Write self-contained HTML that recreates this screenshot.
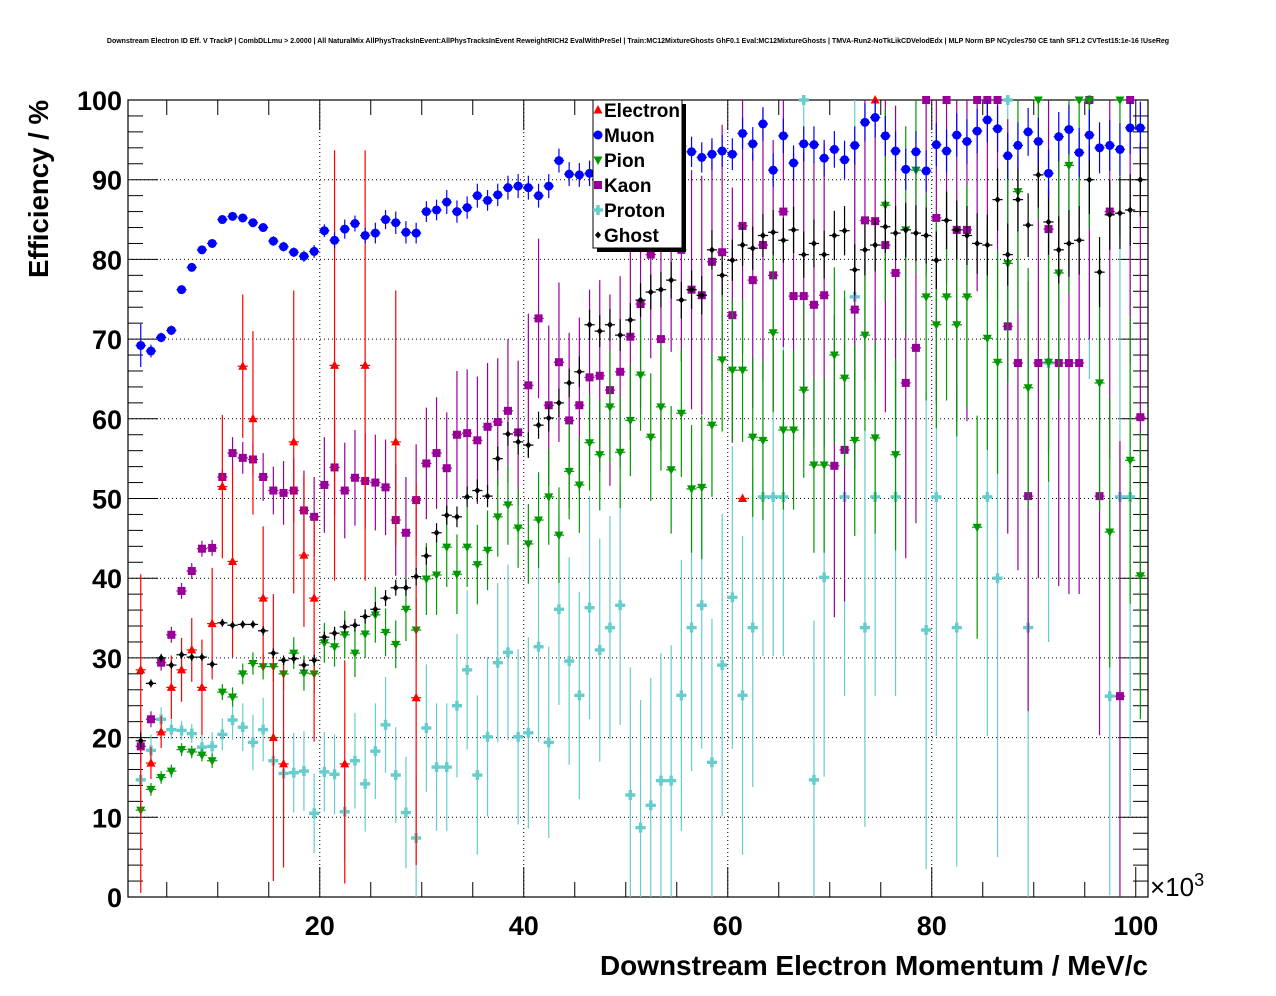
<!DOCTYPE html>
<html><head><meta charset="utf-8"><style>
html,body{margin:0;padding:0;background:#fff;}
svg{display:block;font-family:"Liberation Sans",Arial,sans-serif;}
</style></head><body>
<svg id="chart" width="1276" height="996" viewBox="0 0 1276 996" xmlns="http://www.w3.org/2000/svg">
<rect x="0" y="0" width="1276" height="996" fill="#fff"/>
<text x="638" y="43" font-size="7" font-weight="bold" text-anchor="middle">Downstream Electron ID Eff. V TrackP | CombDLLmu &gt; 2.0000 | All NaturalMix AllPhysTracksInEvent:AllPhysTracksInEvent ReweightRICH2 EvalWithPreSel | Train:MC12MixtureGhosts GhF0.1 Eval:MC12MixtureGhosts | TMVA-Run2-NoTkLikCDVelodEdx | MLP Norm BP NCycles750 CE tanh SF1.2 CVTest15:1e-16 !UseReg</text>
<g id="grid"></g>
<g id="axes"></g>
<g id="marks"></g>
<text x="0" y="0" transform="translate(48,100) rotate(-90)" font-size="28" font-weight="bold" text-anchor="end" textLength="178" lengthAdjust="spacingAndGlyphs">Efficiency / %</text>
<text x="1148" y="975" font-size="28" font-weight="bold" text-anchor="end" textLength="548" lengthAdjust="spacingAndGlyphs">Downstream Electron Momentum / MeV/c</text>
<text x="1150" y="896" font-size="26">×10<tspan font-size="18" dy="-10">3</tspan></text>
<g id="legend"></g>
</svg>
<script>
const categoriesStart = 2.45; // first bin centre (×10^3 MeV/c), bins of width 1
const yTicks = [0,10,20,30,40,50,60,70,80,90,100];
const xTicks = [20,40,60,80,100];
const electronVals = [28.5,16.8,20.7,26.3,28.5,31,26.3,34.3,51.5,42.1,66.6,60,37.5,20,16.7,57.1,42.9,37.5,null,66.7,16.7,null,66.7,null,null,57.1,null,25];
const electronUp = [12,2,2,4,4,4,6,7,9,12,9,11,9,18,13,19,10,10,null,27,13,null,27,null,null,19,null,27];
const electronDn = [28,2,2,4,4,4,6,7,9,12,9,12,9,18,13,19,9,18,null,27,15,null,27,null,null,13,null,21];
const electronExtraX = [61.45,74.45];
const electronExtraV = [50,100];
const muonVals = [69.2,68.5,70.2,71.1,76.2,79,81.2,82,85,85.4,85.2,84.6,84,82.3,81.6,80.9,80.4,81,83.6,82.4,83.8,84.5,83,83.3,85,84.6,83.4,83.3,86,86.2,87.2,86,86.5,88,87.4,88.1,89,89.2,89,88,89.2,92.4,90.7,90.6,90.8,91,90.5,92.3,93,94,92.2,94,93.8,94.2,93.5,92.8,93.2,93.6,93.2,95.8,94.5,97,91.2,95.5,92.1,94.5,94.4,92.7,93.8,92.5,94.3,97.2,97.8,95.5,93.6,91.3,93.5,91.1,94.4,93.6,95.6,94.8,96.1,97.5,96.4,93,94.3,96,94.8,90.8,95.4,96.3,93.4,95.6,94,94.3,93.8,96.5,96.5];
const muonErr = [2.7,0.8,0.6,0.6,0.5,0.5,0.5,0.5,0.5,0.5,0.5,0.5,0.5,0.6,0.6,0.6,0.7,0.8,0.8,1.0,1.2,1.0,1.0,1.3,1.2,1.4,1.4,1.3,1.3,1.3,1.5,1.4,1.4,1.5,1.3,1.4,1.5,1.5,1.5,1.5,1.5,1.5,1.5,1.5,1.6,1.6,1.6,1.7,1.7,1.8,1.8,1.8,1.8,1.9,1.9,1.9,2,2,2,2,2.1,2.1,2.1,2.2,2.2,2.2,2.3,2.3,2.3,2.4,2.4,2.4,2.5,2.5,2.5,2.6,2.6,2.6,2.7,2.7,2.7,2.8,2.8,2.8,2.9,2.9,2.9,3,3,3,3.1,3.1,3.1,3.2,3.2,3.2,3.3,3.3,3.3];
const pionVals = [10.9,13.5,15,15.8,18.5,18.2,17.8,17.1,25.7,25.1,28,29.3,28.9,28.9,28,30.6,28.1,28,31.9,31.4,32.9,30.6,33,35.4,33.2,31.7,36.1,33.5,39.9,40.4,43.9,40.5,43.9,41.7,43.5,47.7,49.2,46.3,44.3,47.3,50.2,45.4,53.4,51.7,57,55.5,61.5,55.8,59.8,65.5,57.7,61.5,53.6,60.7,51.2,51.4,59.2,67.4,66.1,66.1,57.7,57.3,70.8,58.6,58.6,63.6,54.2,54.2,68,65.1,57.3,70.5,57.6,86.8,55.5,83.7,91.2,75.3,71.8,75.3,71.8,75.3,46.4,70.1,67.1,79.5,88.5,63.9,100,67.1,78.3,91.8,100,100,64.5,45.8,100,54.8,40.3];
const pionErr = [1,0.8,0.8,0.8,0.8,0.8,0.8,0.9,1,1.2,1.3,1.4,1.6,1.8,2,2,2.2,2.5,2.5,2.5,3,3,3,3.5,3,3,4,4,4.5,5,5,5,5,5,5,5,5,5,5,6,6,6,6,6,6,7,7,7,7,7,8,8,8,8,8,9,9,9,9,9,10,10,10,10,10,11,11,11,11,11,12,12,12,12,12,13,13,13,13,13,14,14,14,14,14,15,15,15,15,15,16,16,16,16,16,17,17,18,18];
const kaonVals = [18.9,22.3,29.4,32.9,38.4,40.9,43.7,43.8,52.7,55.7,55.1,54.9,52.7,51,50.7,51,48.5,47.7,51.7,53.9,51,52.6,52.2,52,51.4,47.3,45.7,49.8,54.4,55.7,53.8,58,58.2,57.3,59,59.6,61,58.3,64.2,72.6,61.7,67.1,59.8,61.7,65.2,65.4,63.6,65.9,70.3,74.4,80.6,70,82.4,81.2,76.2,75.5,79.7,80.9,73,84.2,77.4,81.8,78,86,75.4,75.4,74.3,75.5,54.1,56.1,73.7,84.9,84.8,81.8,78.3,64.5,68.9,100,85.2,100,83.7,83.7,100,100,100,71.6,67,50.3,67,83.8,67,67,67,100,50.3,86,25.2,100,60.2];
const kaonErr = [2,1,1,1,1,1,1,1,1,2,2,2,3,3,4,4,5,5,6,6,6,6,6,6,6,7,7,7,7,7,7,8,8,8,8,8,9,9,9,10,10,10,11,11,11,12,12,12,13,13,13,14,14,14,15,15,15,16,16,16,16,17,17,17,18,18,18,19,19,19,20,20,20,21,21,22,22,22,23,23,24,24,24,25,25,26,26,27,27,28,28,29,29,30,30,31,32,33,34];
const protonVals = [14.7,18.4,22.3,21,20.9,20.5,18.8,18.9,20.4,22.2,21.3,19.4,21,17.1,15.5,15.6,15.8,10.5,15.7,15.4,10.7,17.1,14.2,18.3,21.6,15.3,10.6,7.4,21.2,16.3,16.3,24,28.5,15.3,20.1,29.4,30.7,20.1,20.6,31.4,19.4,36.1,29.6,25.3,36.3,31,33.8,36.6,12.8,8.7,11.5,14.6,14.6,25.3,33.8,36.6,16.9,29.1,37.6,25.3,33.8,50.2,50.2,50.2,null,100,14.7,40.1,null,50.2,75.3,33.8,50.2,null,50.2,null,null,33.5,50.2,null,33.8,null,null,50.2,40,100,null,33.8,null,67,null,null,null,100,null,25.2,50.2,50.2,null];
const protonErr = [3,2,1.5,1.2,1.2,1.2,1.5,1.8,2,2.5,3,3.5,4,5,5,5,5,5,5,5,6,6,6,6,6,6,7,8,8,8,8,9,10,10,10,10,11,11,12,12,12,12,13,13,14,14,14,15,16,16,16,16,17,17,18,18,18,19,19,20,20,20,20,20,null,20,20,25,null,25,25,25,25,null,25,null,null,30,30,null,30,null,null,30,35,35,null,35,null,35,null,null,null,35,null,25,40,40,null];
const ghostVals = [19.6,26.8,30,29.1,30.4,30.1,30.1,29.2,34.4,34.1,34.2,34.2,33.4,30.6,29.7,29.9,29.1,29.7,32.6,33.1,33.9,34.1,35.2,36.1,37.5,38.8,38.8,40.2,42.8,45.7,47.9,47.7,50.2,51,50.3,55,58.1,57.1,56.7,59.2,60.1,62,64.5,65.9,71.8,71,71.8,70.5,72.4,74.9,75.9,76.2,77.4,74.9,76.2,75.5,81.2,78,79.9,81.8,81.4,83,83.4,82.4,83.7,80.6,82,80.6,83,83.6,78.7,81.2,81.8,84.1,83.3,83.7,83.3,83,79.9,84.9,83.7,83,82,81.8,87.5,80.6,87.5,84.3,90.6,84.7,81.2,82,82.4,90,78.4,85.6,85.8,86.2,90];
const ghostErr = [1,0.5,0.5,0.5,0.5,0.5,0.5,0.5,0.5,0.5,0.5,0.5,0.6,0.6,0.6,0.6,0.7,0.7,0.7,0.8,0.8,0.8,0.9,0.9,1,1,1,1.1,1.1,1.2,1.2,1.3,1.3,1.4,1.4,1.5,1.5,1.6,1.6,1.7,1.7,1.8,1.8,1.9,1.9,2,2,2,2.1,2.1,2.2,2.2,2.3,2.3,2.4,2.4,2.5,2.5,2.6,2.6,2.7,2.7,2.8,2.8,2.9,2.9,3,3,3.1,3.1,3.2,3.2,3.3,3.3,3.4,3.4,3.5,3.5,3.6,3.6,3.7,3.7,3.8,3.8,3.9,3.9,4,4,4.1,4.1,4.2,4.2,4.3,4.3,4.4,4.4,4.5,4.5,4.6];
const legendLabels = ["Electron","Muon","Pion","Kaon","Proton","Ghost"];

const NS="http://www.w3.org/2000/svg";
const X0=128,X1=1148,Y0=897,Y1=100;
const xMin=1.2,xMax=101.2,yMin=0,yMax=100;
function sx(v){return X0+(v-xMin)/(xMax-xMin)*(X1-X0);}
function sy(v){return Y0-(v-yMin)/(yMax-yMin)*(Y0-Y1);}
function mk(tag,attrs,parent){const e=document.createElementNS(NS,tag);for(const k in attrs)e.setAttribute(k,attrs[k]);parent.appendChild(e);return e;}
const grid=document.getElementById('grid'),axes=document.getElementById('axes'),marks=document.getElementById('marks'),legend=document.getElementById('legend');

xTicks.forEach(t=>{if(t<100){const l=mk('line',{x1:sx(t),x2:sx(t),y1:Y0,y2:Y1,stroke:'#000','stroke-width':1,'stroke-dasharray':'1,3'},grid);

}});
yTicks.forEach(t=>{if(t>0&&t<100){const l=mk('line',{x1:X0,x2:X1,y1:sy(t),y2:sy(t),stroke:'#000','stroke-width':1,'stroke-dasharray':'1,3'},grid);

}});

const fr=mk('rect',{x:X0,y:Y1,width:X1-X0,height:Y0-Y1,fill:'none',stroke:'#000','stroke-width':1.2},axes);


for(let v=0;v<=100;v+=2){const major=v%10===0;const len=major?30:15;
mk('line',{x1:X0,x2:X0+len,y1:sy(v),y2:sy(v),stroke:'#000','stroke-width':1},axes);
mk('line',{x1:X1,x2:X1-len,y1:sy(v),y2:sy(v),stroke:'#000','stroke-width':1},axes);}
yTicks.forEach(t=>{const tx=mk('text',{x:X0-6,y:sy(t)+10,'font-size':27,'font-weight':'bold','text-anchor':'end'},axes);tx.textContent=t;

});
for(let v=5;v<=100;v+=5){const major=v%20===0;const len=major?30:15;
mk('line',{x1:sx(v),x2:sx(v),y1:Y0,y2:Y0-len,stroke:'#000','stroke-width':1},axes);
mk('line',{x1:sx(v),x2:sx(v),y1:Y1,y2:Y1+len,stroke:'#000','stroke-width':1},axes);}
xTicks.forEach(t=>{const tx=mk('text',{x:sx(t),y:935,'font-size':27,'font-weight':'bold','text-anchor':'middle'},axes);tx.textContent=t;

});

function marker(g,type,cx,cy,col){
 if(type==='tri')mk('polygon',{points:`${cx},${cy-5} ${cx-4.5},${cy+3.5} ${cx+4.5},${cy+3.5}`,fill:col},g);
 else if(type==='circ')mk('circle',{cx:cx,cy:cy,r:4.5,fill:col},g);
 else if(type==='tdn')mk('polygon',{points:`${cx},${cy+5} ${cx-4.5},${cy-3.5} ${cx+4.5},${cy-3.5}`,fill:col},g);
 else if(type==='sq')mk('rect',{x:cx-4,y:cy-4,width:8,height:8,fill:col},g);
 else if(type==='cross'){mk('rect',{x:cx-5,y:cy-1.7,width:10,height:3.4,fill:col},g);mk('rect',{x:cx-1.7,y:cy-5,width:3.4,height:10,fill:col},g);}
 else if(type==='dia')mk('polygon',{points:`${cx},${cy-3.5} ${cx-3},${cy} ${cx},${cy+3.5} ${cx+3},${cy}`,fill:col},g);
}
function clampY(v){return Math.max(0,Math.min(100,v));}
function drawSeries(name,vals,up,dn,xs,type,col){
 const g=mk('g',{},marks);
 
 
 vals.forEach((v,i)=>{if(v===null||v===undefined)return;
  const xv=xs?xs[i]:categoriesStart+i;const cx=sx(xv),cy=sy(v);
  const p=mk('g',{},g);
  
  
  const eu=up?(up[i]||0):0,ed=dn?(dn[i]||0):0;
  mk('line',{x1:cx,x2:cx,y1:sy(clampY(v+eu)),y2:sy(clampY(v-ed)),stroke:col,'stroke-width':1.2},p);
  mk('line',{x1:sx(xv-0.5),x2:sx(xv+0.5),y1:cy,y2:cy,stroke:col,'stroke-width':1.2},p);
  marker(p,type,cx,cy,col);
 });
}
drawSeries('proton',protonVals,protonErr,protonErr,null,'cross','#66cccc');
drawSeries('kaon',kaonVals,kaonErr,kaonErr,null,'sq','#990099');
drawSeries('pion',pionVals,pionErr,pionErr,null,'tdn','#009900');
drawSeries('electron',electronVals,electronUp,electronDn,null,'tri','#ff0000');
drawSeries('electron-extra',electronExtraV,null,null,electronExtraX,'tri','#ff0000');
drawSeries('ghost',ghostVals,ghostErr,ghostErr,null,'dia','#000000');
drawSeries('muon',muonVals,muonErr,muonErr,null,'circ','#0000ff');

mk('rect',{x:597,y:104,width:89,height:148,fill:'#000'},legend);
const lb=mk('rect',{x:593,y:100,width:89,height:148,fill:'#fff',stroke:'#000','stroke-width':1},legend);


const legTypes=['tri','circ','tdn','sq','cross','dia'];
const legCols=['#ff0000','#0000ff','#009900','#990099','#66cccc','#000000'];
legendLabels.forEach((lab,i)=>{const y=110+25*i;
 const g=mk('g',{},legend);
 
 
 marker(g,legTypes[i],598,y,legCols[i]);
 const t=mk('text',{x:604,y:y+7,'font-size':19,'font-weight':'bold'},g);t.textContent=lab;
});
</script>
</body></html>
